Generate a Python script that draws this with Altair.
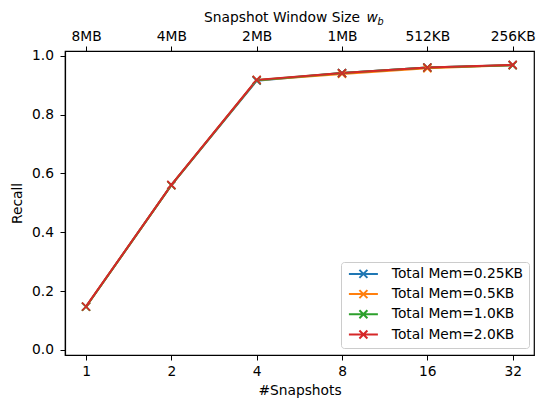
import altair as alt
import pandas as pd

# Number of snapshots (x) and the matching snapshot window sizes (top axis)
snapshots = [1, 2, 4, 8, 16, 32]
window_labels = ["8MB", "4MB", "2MB", "1MB", "512KB", "256KB"]

series_names = [
    "Total Mem=0.25KB",
    "Total Mem=0.5KB",
    "Total Mem=1.0KB",
    "Total Mem=2.0KB",
]
recall_025 = [0.147, 0.560, 0.915, 0.941, 0.960, 0.968]
recall_05 = [0.147, 0.560, 0.917, 0.938, 0.957, 0.968]
recall_10 = [0.147, 0.560, 0.917, 0.941, 0.960, 0.968]
recall_20 = [0.148, 0.561, 0.918, 0.941, 0.960, 0.969]
colors = ["#1f77b4", "#ff7f0e", "#2ca02c", "#d62728"]

rows = []
for name, vals in zip(series_names, [recall_025, recall_05, recall_10, recall_20]):
    for s, v in zip(snapshots, vals):
        rows.append({"snapshots": s, "recall": v, "series": name})
df = pd.DataFrame(rows)

FONT = "DejaVu Sans"
FS = 13.8

top_expr = " : ".join(
    f"datum.value == {s} ? '{lab}'" for s, lab in zip(snapshots, window_labels)
) + " : ''"

x_scale = alt.Scale(type="log", base=2, domain=[0.843, 38.05], nice=False)
y_scale = alt.Scale(domain=[-0.017, 1.016], nice=False, zero=False)
color_scale = alt.Scale(domain=series_names, range=colors)

# "x" marker for the data points
X_SHAPE = "M-1,-1L1,1M-1,1L1,-1"
# legend key: a short line with an "x" on it, drawn to the right of its anchor
LEGEND_SHAPE = "M-1,0L6.25,0M1.625,-1L3.625,1M1.625,1L3.625,-1"

legend = alt.Legend(
    title=None,
    orient="none",
    legendX=276,
    legendY=211,
    symbolType=LEGEND_SHAPE,
    symbolSize=64,
    symbolStrokeWidth=2,
    symbolFillColor="transparent",
    labelFont=FONT,
    labelFontSize=FS,
    labelColor="black",
    labelOffset=32,
    rowPadding=3.2,
    padding=5,
    fillColor="white",
    strokeColor="#cccccc",
    cornerRadius=3,
)

base = alt.Chart(df)

lines = base.mark_line(strokeWidth=2, clip=False).encode(
    x=alt.X(
        "snapshots:Q",
        scale=x_scale,
        axis=alt.Axis(
            orient="bottom",
            values=snapshots,
            labelExpr="datum.value",
            title="#Snapshots",
            titlePadding=6,
            labelPadding=4,
        ),
    ),
    y=alt.Y(
        "recall:Q",
        scale=y_scale,
        axis=alt.Axis(
            values=[0.0, 0.2, 0.4, 0.6, 0.8, 1.0],
            format=".1f",
            title="Recall",
            titlePadding=7,
            labelPadding=6.5,
        ),
    ),
    color=alt.Color("series:N", scale=color_scale, legend=legend),
    detail="series:N",
)

points = base.mark_point(
    shape=X_SHAPE, size=64, filled=False, strokeWidth=1.6, opacity=1
).encode(
    x=alt.X(
        "snapshots:Q",
        scale=x_scale,
        axis=alt.Axis(
            orient="top",
            values=snapshots,
            labelExpr=top_expr,
            title=None,
            labelPadding=3,
        ),
    ),
    y=alt.Y("recall:Q", scale=y_scale),
    color=alt.Color("series:N", scale=color_scale, legend=None),
)

# Top axis title with an italic w and subscript b
title_main = alt.Chart(pd.DataFrame({"t": ["Snapshot Window Size"]})).mark_text(
    font=FONT, fontSize=FS, align="right", baseline="alphabetic", color="black"
).encode(text="t:N", x=alt.value(295), y=alt.value(-29.5))
title_w = alt.Chart(pd.DataFrame({"t": ["w"]})).mark_text(
    font=FONT, fontSize=FS, fontStyle="italic", align="left",
    baseline="alphabetic", color="black"
).encode(text="t:N", x=alt.value(301.5), y=alt.value(-29.5))
title_b = alt.Chart(pd.DataFrame({"t": ["b"]})).mark_text(
    font=FONT, fontSize=9.7, fontStyle="italic", align="left",
    baseline="alphabetic", color="black"
).encode(text="t:N", x=alt.value(312.5), y=alt.value(-26))

chart = (
    alt.layer(lines, points, title_main, title_w, title_b)
    .resolve_scale(x="shared", y="shared", color="shared")
    .resolve_axis(x="independent")
    .properties(
        width=469,
        height=304,
        background="white",
        autosize=alt.AutoSizeParams(type="none"),
        padding={"left": 65, "top": 51, "right": 3, "bottom": 45},
    )
    .configure_view(stroke="black", strokeWidth=1.2)
    .configure_axis(
        grid=False,
        domainColor="black",
        domainWidth=1.2,
        tickColor="black",
        tickSize=5,
        tickWidth=1,
        labelFont=FONT,
        labelFontSize=FS,
        labelColor="black",
        titleFont=FONT,
        titleFontSize=FS,
        titleFontWeight="normal",
        titleColor="black",
        labelFlush=False,
    )
)

chart.save("out.html", embed_options={"renderer": "svg", "actions": False})
